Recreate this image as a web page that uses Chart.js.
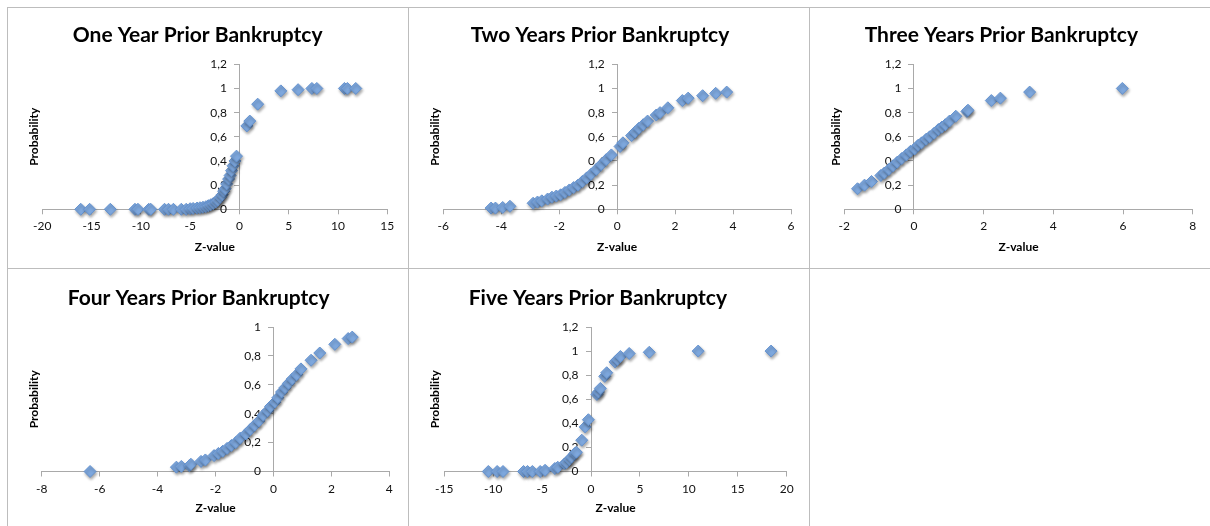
<!DOCTYPE html>
<html>
<head>
<meta charset="utf-8">
<title>Bankruptcy probability by Z-value</title>
<script src="https://cdn.jsdelivr.net/npm/chart.js@4/dist/chart.umd.min.js"></script>
<style>
  html, body { margin: 0; padding: 0; background: #ffffff; }
  #sheet { position: relative; width: 1210px; height: 526px; overflow: hidden; background: #ffffff; }
  .rule { position: absolute; background: #bdbdbd; }
  canvas { position: absolute; }
</style>
</head>
<body>
<div id="sheet">
  <div class="rule" style="left:7px;top:7px;width:1203px;height:1px"></div>
  <div class="rule" style="left:7px;top:268px;width:1203px;height:1px"></div>
  <div class="rule" style="left:7px;top:7px;width:1px;height:519px"></div>
  <div class="rule" style="left:408px;top:7px;width:1px;height:519px"></div>
  <div class="rule" style="left:809px;top:7px;width:1px;height:519px"></div>
  <canvas id="panel1" width="400" height="260" style="left:8px;top:8px"></canvas>
  <canvas id="panel2" width="400" height="260" style="left:409px;top:8px"></canvas>
  <canvas id="panel3" width="400" height="260" style="left:810px;top:8px"></canvas>
  <canvas id="panel4" width="400" height="257" style="left:8px;top:269px"></canvas>
  <canvas id="panel5" width="400" height="257" style="left:409px;top:269px"></canvas>
</div>
<script>
// ---- Chart titles ----
const titles = [
  'One Year Prior Bankruptcy',
  'Two Years Prior Bankruptcy',
  'Three Years Prior Bankruptcy',
  'Four Years Prior Bankruptcy',
  'Five Years Prior Bankruptcy'
];

// ---- Tick labels ----
const zTicks1 = ['-20', '-15', '-10', '-5', '0', '5', '10', '15'];
const zTicks2 = ['-6', '-4', '-2', '0', '2', '4', '6'];
const zTicks3 = ['-2', '0', '2', '4', '6', '8'];
const zTicks4 = ['-8', '-6', '-4', '-2', '0', '2', '4'];
const zTicks5 = ['-15', '-10', '-5', '0', '5', '10', '15', '20'];
const pTicksTo12 = ['0', '0,2', '0,4', '0,6', '0,8', '1', '1,2'];
const pTicksTo1 = ['0', '0,2', '0,4', '0,6', '0,8', '1'];

// ---- One year prior ----
const oneYearZ = [-16.1, -15.2, -13.1, -10.6, -10.3, -9.2, -9.0, -7.6, -7.2, -6.7, -5.9, -5.4, -5.0, -4.7, -4.3, -4.0,
  -3.7, -3.4, -3.15, -2.9, -2.65, -2.4, -2.2, -1.95, -1.75, -1.6, -1.45, -1.3, -1.1, -0.95, -0.8, -0.65, -0.45, -0.3,
  0.75, 1.05, 1.85, 4.2, 5.95, 7.35, 7.85, 10.65, 10.95, 11.8];
const oneYearP = [0, 0, 0, 0, 0, 0, 0, 0, 0, 0, 0, 0, 0.005, 0.007, 0.01, 0.013,
  0.017, 0.022, 0.03, 0.038, 0.048, 0.06, 0.075, 0.1, 0.12, 0.15, 0.17, 0.21, 0.25, 0.28, 0.32, 0.36, 0.4, 0.44,
  0.69, 0.73, 0.87, 0.98, 0.99, 1.0, 1.0, 1.0, 1.0, 1.0];

// ---- Two years prior ----
const twoYearsZ = [-4.35, -4.2, -3.95, -3.7, -2.9, -2.75, -2.6, -2.4, -2.25, -2.1, -1.95, -1.8, -1.65, -1.5, -1.35, -1.2,
  -1.05, -0.9, -0.72, -0.55, -0.38, -0.2, 0.1, 0.2, 0.5, 0.62, 0.75, 0.9, 1.05, 1.35, 1.48, 1.75, 2.25, 2.45, 2.95, 3.4, 3.78];
const twoYearsP = [0.01, 0.01, 0.015, 0.025, 0.05, 0.06, 0.07, 0.085, 0.1, 0.11, 0.12, 0.14, 0.16, 0.18, 0.2, 0.23,
  0.26, 0.29, 0.33, 0.37, 0.41, 0.45, 0.52, 0.55, 0.61, 0.64, 0.67, 0.7, 0.73, 0.78, 0.8, 0.84, 0.9, 0.92, 0.94, 0.96, 0.97];

// ---- Three years prior ----
const threeYearsZ = [-1.62, -1.42, -1.22, -0.95, -0.85, -0.72, -0.6, -0.48, -0.35, -0.22, -0.1, 0.02, 0.12, 0.22,
  0.35, 0.45, 0.58, 0.7, 0.8, 0.9, 1.02, 1.2, 1.52, 1.55, 2.22, 2.48, 3.32, 5.98];
const threeYearsP = [0.17, 0.2, 0.23, 0.28, 0.3, 0.33, 0.36, 0.39, 0.42, 0.45, 0.48, 0.5, 0.53, 0.55,
  0.58, 0.6, 0.63, 0.66, 0.68, 0.7, 0.73, 0.77, 0.81, 0.82, 0.9, 0.92, 0.97, 1.0];

// ---- Four years prior ----
const fourYearsZ = [-6.33, -3.35, -3.18, -2.9, -2.85, -2.5, -2.35, -2.05, -1.9, -1.75, -1.6, -1.45, -1.3, -1.15, -0.95,
  -0.8, -0.65, -0.5, -0.35, -0.2, -0.1, 0.05, 0.15, 0.28, 0.4, 0.52, 0.65, 0.8, 0.95, 1.3, 1.6, 2.12, 2.58, 2.72];
const fourYearsP = [0, 0.03, 0.035, 0.04, 0.05, 0.07, 0.08, 0.11, 0.125, 0.14, 0.16, 0.18, 0.2, 0.23, 0.26,
  0.29, 0.32, 0.35, 0.39, 0.42, 0.45, 0.48, 0.51, 0.55, 0.58, 0.61, 0.64, 0.67, 0.71, 0.77, 0.82, 0.88, 0.92, 0.93];

// ---- Five years prior ----
const fiveYearsZ = [-10.5, -9.6, -9.0, -6.9, -6.5, -6.0, -5.2, -4.7, -3.7, -3.4, -2.7, -2.5, -2.2, -2.0, -1.65, -1.5,
  -0.95, -0.6, -0.27, 0.6, 0.75, 0.95, 1.4, 1.6, 2.45, 2.7, 3.0, 3.9, 5.95, 10.95, 18.4];
const fiveYearsP = [0, 0, 0, 0, 0, 0, 0, 0.01, 0.025, 0.035, 0.065, 0.075, 0.1, 0.12, 0.15, 0.16,
  0.26, 0.37, 0.43, 0.64, 0.66, 0.69, 0.79, 0.82, 0.91, 0.93, 0.955, 0.98, 0.99, 1.0, 1.0];

// ---- Styling ----
const AXIS_GREY = '#a9a9a9';
const TEXT = '#111111';
const FONT = 'Lato, "Open Sans", "DejaVu Sans", sans-serif';
const LABEL_GAP = 12.5; // px between the probability labels and the vertical axis

// Soft drop shadow under the diamond markers
const markerShadow = {
  id: 'markerShadow',
  beforeDatasetsDraw(chart) {
    const c = chart.ctx;
    c.save();
    c.shadowColor = 'rgba(0,0,0,0.35)';
    c.shadowBlur = 3;
    c.shadowOffsetX = 1;
    c.shadowOffsetY = 2;
  },
  afterDatasetsDraw(chart) {
    chart.ctx.restore();
  }
};

const num = s => parseFloat(s.replace(',', '.'));

function makePanel(canvasId, geo, title, zs, ps, zTicks, pTicks) {
  const canvas = document.getElementById(canvasId);
  const zMin = num(zTicks[0]);
  const zMax = num(zTicks[zTicks.length - 1]);
  const zStep = num(zTicks[1]) - zMin;
  const pMin = num(pTicks[0]);
  const pMax = num(pTicks[pTicks.length - 1]);
  const pStep = num(pTicks[1]) - pMin;
  const points = zs.map((z, i) => ({ x: z, y: ps[i] }));
  // the label scale sits a little left of z = 0 so its text clears the axis line
  const plotWidth = canvas.width - geo.left - geo.right;
  const labelShift = LABEL_GAP * (zMax - zMin) / plotWidth;

  return new Chart(canvas, {
    type: 'scatter',
    data: {
      datasets: [{
        data: points,
        xAxisID: 'x',
        yAxisID: 'y',
        pointStyle: 'rectRot',
        pointRadius: 6,
        pointHoverRadius: 6,
        backgroundColor: '#7ea8de',
        borderColor: '#6492cf',
        borderWidth: 1,
        clip: false
      }]
    },
    options: {
      responsive: false,
      animation: false,
      devicePixelRatio: 1,
      events: [],
      layout: { padding: { left: 0, right: geo.right, top: 0, bottom: 0 } },
      plugins: {
        legend: { display: false },
        tooltip: { enabled: false },
        title: {
          display: true,
          text: title,
          color: '#000000',
          font: { family: FONT, size: 21, weight: 'bold', lineHeight: 1.2 },
          padding: { top: geo.titleTop, bottom: geo.titleGap }
        }
      },
      scales: {
        x: {
          type: 'linear',
          position: 'bottom',
          min: zMin,
          max: zMax,
          ticks: {
            stepSize: zStep,
            autoSkip: false,
            maxRotation: 0,
            padding: 5,
            color: TEXT,
            font: { family: FONT, size: 12 },
            callback: (v, i) => zTicks[i]
          },
          grid: { display: true, drawOnChartArea: false, drawTicks: true, tickLength: 5, color: AXIS_GREY },
          border: { display: true, color: AXIS_GREY, width: 1 },
          title: {
            display: true,
            text: 'Z-value',
            color: '#000000',
            font: { family: FONT, size: 12, weight: 'bold', lineHeight: 1.2 },
            padding: { top: 0, bottom: geo.zTitlePad }
          },
          afterFit: s => { s.height = geo.bottom; }
        },
        // vertical axis line and tick marks, crossing at z = 0
        y: {
          type: 'linear',
          position: { x: 0 },
          min: pMin,
          max: pMax,
          ticks: {
            stepSize: pStep,
            autoSkip: false,
            display: false
          },
          grid: { display: true, drawOnChartArea: false, drawTicks: true, tickLength: 5, color: AXIS_GREY },
          border: { display: true, color: AXIS_GREY, width: 1 },
          afterFit: s => { s.width = 0; }
        },
        // probability tick labels for the same axis
        yTicks: {
          type: 'linear',
          axis: 'y',
          position: { x: -labelShift },
          min: pMin,
          max: pMax,
          ticks: {
            stepSize: pStep,
            autoSkip: false,
            color: TEXT,
            font: { family: FONT, size: 12 },
            callback: (v, i) => pTicks[i]
          },
          grid: { display: false },
          border: { display: false },
          afterFit: s => { s.width = 0; }
        },
        probLabel: {
          type: 'linear',
          axis: 'y',
          position: 'left',
          display: true,
          ticks: { display: false },
          grid: { display: false },
          border: { display: false },
          title: {
            display: true,
            text: 'Probability',
            color: '#000000',
            font: { family: FONT, size: 12, weight: 'bold', lineHeight: 1.2 },
            padding: { top: geo.probPad, bottom: 0 }
          },
          afterFit: s => { s.width = geo.left; }
        }
      }
    },
    plugins: [markerShadow]
  });
}

const rowTop = { titleTop: 14.4, titleGap: 16.7, bottom: 58.7, zTitlePad: 14.1, probPad: 18.8 };
const rowBottom = { titleTop: 16.9, titleGap: 15.9, bottom: 54.5, zTitlePad: 11.1, probPad: 18.8 };

makePanel('panel1', Object.assign({ left: 34.3, right: 20.7 }, rowTop), titles[0], oneYearZ, oneYearP, zTicks1, pTicksTo12);
makePanel('panel2', Object.assign({ left: 34.3, right: 18 }, rowTop), titles[1], twoYearsZ, twoYearsP, zTicks2, pTicksTo12);
makePanel('panel3', Object.assign({ left: 34.3, right: 17.3 }, rowTop), titles[2], threeYearsZ, threeYearsP, zTicks3, pTicksTo12);
makePanel('panel4', Object.assign({ left: 33.7, right: 18.7 }, rowBottom), titles[3], fourYearsZ, fourYearsP, zTicks4, pTicksTo1);
makePanel('panel5', Object.assign({ left: 35.3, right: 22.3 }, rowBottom), titles[4], fiveYearsZ, fiveYearsP, zTicks5, pTicksTo12);
</script>
</body>
</html>
